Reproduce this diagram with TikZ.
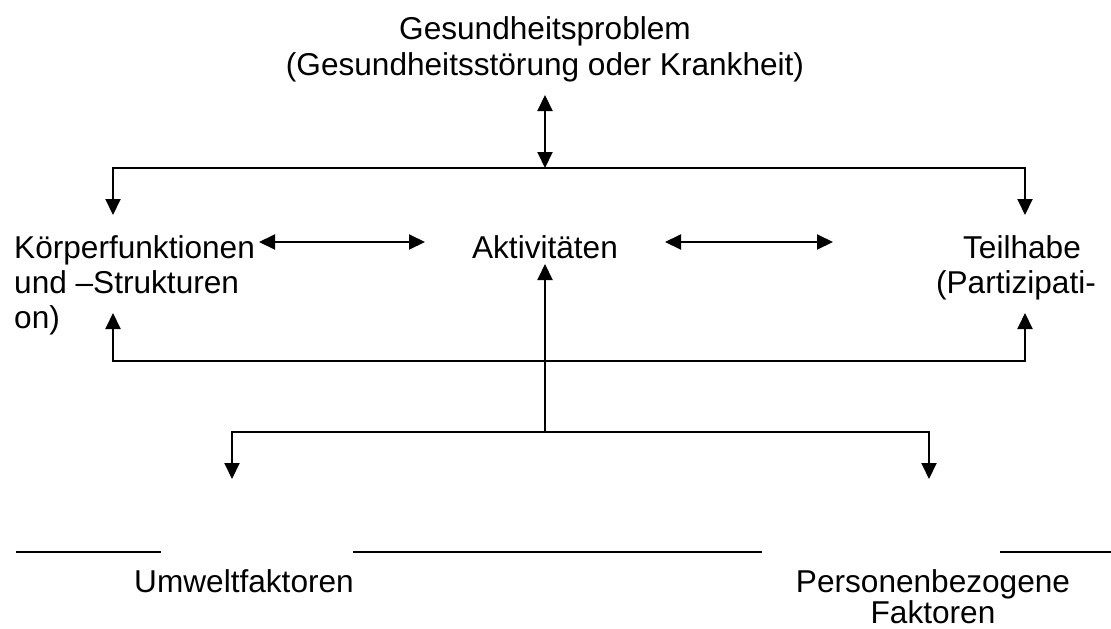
\documentclass[tikz,border=0pt]{standalone}
\usepackage{fontspec}
\setmainfont{Liberation Sans}
\usetikzlibrary{arrows.meta}
\begin{document}
\begin{tikzpicture}[x=1pt,y=-1pt,
  conn/.style={line width=2pt, -{Triangle[length=16pt,width=15pt]}},
  dconn/.style={line width=2pt, {Triangle[length=16pt,width=15pt]}-{Triangle[length=16pt,width=15pt]}},
  plain/.style={line width=2pt},
  lbl/.style={inner sep=0pt, anchor=base, font=\fontsize{31.6}{35.5}\selectfont},
]
\useasboundingbox (0,0) rectangle (1111,629);

% texts
\node[lbl] (g1) at (545,39) {Gesundheitsproblem};
\node[lbl] (g2) at (545,75) {(Gesundheitsstörung oder Krankheit)};
\node[lbl, anchor=base west] (k1) at (14,258) {Körperfunktionen};
\node[lbl, anchor=base west] (k2) at (14,293) {und –Strukturen};
\node[lbl, anchor=base west] (k3) at (14,328) {on)};
\node[lbl] (akt) at (545,258) {Aktivitäten};
\node[lbl] (t1) at (1022,258) {Teilhabe};
\node[lbl] (t2) at (1016,293) {(Partizipati-};
\node[lbl] (u) at (244,592) {Umweltfaktoren};
\node[lbl] (p1) at (933,592) {Personenbezogene};
\node[lbl] (p2) at (933,623) {Faktoren};

% junction coordinates
\coordinate (gtop) at (545,95);
\coordinate (hubA) at (545,168);
\coordinate (kdown) at (113,215);
\coordinate (tdown) at (1025,215);
\coordinate (kdl) at (259,242);
\coordinate (kdr) at (425,242);
\coordinate (tdl) at (665,242);
\coordinate (tdr) at (833,242);
\coordinate (hubB) at (545,361);
\coordinate (kup) at (113,313);
\coordinate (tup) at (1025,313);
\coordinate (hubC) at (545,432);
\coordinate (aup) at (545,264);
\coordinate (udown) at (232,479);
\coordinate (pdown) at (929,479);
\coordinate (b1l) at (16,552);
\coordinate (b1r) at (161,552);
\coordinate (b2l) at (353,552);
\coordinate (b2r) at (762,552);
\coordinate (b3l) at (1000,552);
\coordinate (b3r) at (1111,552);

% connectors
\draw[dconn] (gtop) -- (hubA);
\draw[conn] (hubA) -| (kdown);
\draw[conn] (hubA) -| (tdown);
\draw[dconn] (kdl) -- (kdr);
\draw[dconn] (tdl) -- (tdr);
\draw[conn] (hubB) -| (kup);
\draw[conn] (hubB) -| (tup);
\draw[conn] (hubC) -- (aup);
\draw[conn] (hubC) -| (udown);
\draw[conn] (hubC) -| (pdown);

% separator lines
\draw[plain] (b1l) -- (b1r);
\draw[plain] (b2l) -- (b2r);
\draw[plain] (b3l) -- (b3r);
\end{tikzpicture}
\end{document}
